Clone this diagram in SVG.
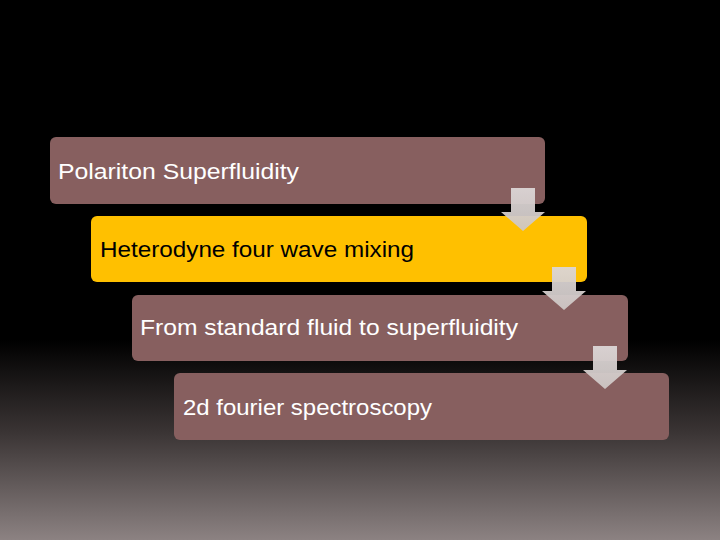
<svg xmlns="http://www.w3.org/2000/svg" width="720" height="540" viewBox="0 0 720 540">
<defs>
<linearGradient id="bg" x1="0" y1="0" x2="0" y2="1">
<stop offset="0" stop-color="#000"/>
<stop offset="0.63" stop-color="#000"/>
<stop offset="0.8" stop-color="#3a3434"/>
<stop offset="1" stop-color="#8c8282"/>
</linearGradient>
<linearGradient id="arr" x1="0" y1="0" x2="0" y2="1">
<stop offset="0" stop-color="#dcd6d6"/>
<stop offset="1" stop-color="#cdc6c4"/>
</linearGradient>
<style>
.box{fill:#875f5f}
.hl{fill:#ffc000}
.t{font-family:"Liberation Sans",Arial,sans-serif;font-size:22px;fill:#fff}
.dark{fill:#000}
.arrow{fill:url(#arr);opacity:0.95}
</style>
</defs>
<rect width="720" height="540" fill="url(#bg)"/>
<g id="node1"><rect class="box" x="50" y="137" width="495" height="67" rx="6"/><text class="t" x="58" y="179" textLength="241" lengthAdjust="spacingAndGlyphs">Polariton Superfluidity</text></g>
<g id="node2"><rect class="hl" x="91" y="216" width="496" height="66" rx="6"/><text class="t dark" x="100" y="257" textLength="314" lengthAdjust="spacingAndGlyphs">Heterodyne four wave mixing</text></g>
<g id="node3"><rect class="box" x="132" y="295" width="496" height="66" rx="6"/><text class="t" x="140" y="335" textLength="378" lengthAdjust="spacingAndGlyphs">From standard fluid to superfluidity</text></g>
<g id="node4"><rect class="box" x="174" y="373" width="495" height="67" rx="6"/><text class="t" x="183" y="415" textLength="249" lengthAdjust="spacingAndGlyphs">2d fourier spectroscopy</text></g>
<g id="connectors">
<path class="arrow" d="M511 188H535V212H545L523 231L501 212H511Z"/>
<path class="arrow" d="M552 267H576V291H586L564 310L542 291H552Z"/>
<path class="arrow" d="M593 346H617V370H627L605 389L583 370H593Z"/>
</g>
</svg>
